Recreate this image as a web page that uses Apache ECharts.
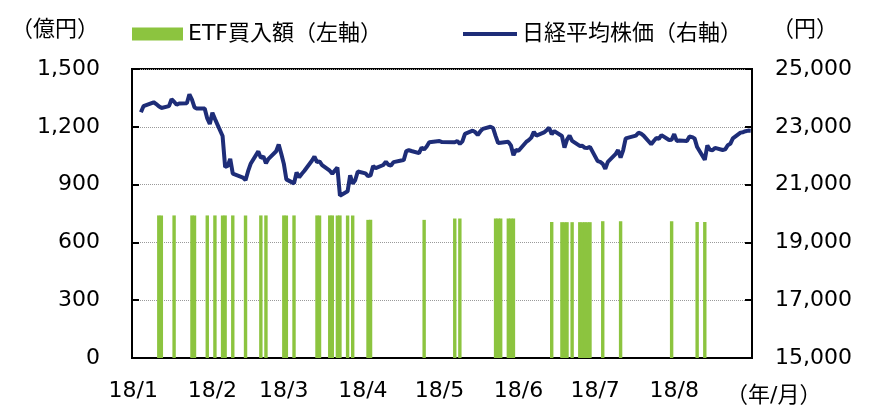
<!DOCTYPE html>
<html style="height: 100%">
<head>
<meta charset="utf-8">
<script src="https://cdn.jsdelivr.net/npm/echarts@6/dist/echarts.min.js"></script>
</head>
<body style="height: 100%; margin: 0; background: #fff">
<div id="main" style="width: 870px; height: 419px"></div>
<script type="text/javascript">
// 日経平均株価（終値, 円）
var nikkeiDates = [
  '01-04','01-05','01-09','01-10','01-11','01-12','01-15','01-16','01-17','01-18','01-19','01-22','01-23','01-24','01-25','01-26','01-29','01-30','01-31',
  '02-01','02-02','02-05','02-06','02-07','02-08','02-09','02-13','02-14','02-15','02-16','02-19','02-20','02-21','02-22','02-23','02-26','02-27','02-28',
  '03-01','03-02','03-05','03-06','03-07','03-08','03-09','03-12','03-13','03-14','03-15','03-16','03-19','03-20','03-22','03-23','03-26','03-27','03-28','03-29','03-30',
  '04-02','04-03','04-04','04-05','04-06','04-09','04-10','04-11','04-12','04-13','04-16','04-17','04-18','04-19','04-20','04-23','04-24','04-25','04-26','04-27',
  '05-01','05-02','05-07','05-08','05-09','05-10','05-11','05-14','05-15','05-16','05-17','05-18','05-21','05-22','05-23','05-24','05-25','05-28','05-29','05-30','05-31',
  '06-01','06-04','06-05','06-06','06-07','06-08','06-11','06-12','06-13','06-14','06-15','06-18','06-19','06-20','06-21','06-22','06-25','06-26','06-27','06-28','06-29',
  '07-02','07-03','07-04','07-05','07-06','07-09','07-10','07-11','07-12','07-13','07-17','07-18','07-19','07-20','07-23','07-24','07-25','07-26','07-27','07-30','07-31',
  '08-01','08-02','08-03','08-06','08-07','08-08','08-09','08-10','08-13','08-14','08-15','08-16','08-17','08-20','08-21','08-22','08-23','08-24','08-27','08-28','08-29','08-30','08-31'
];
var nikkeiValues = [
  23506,23714,23849,23788,23710,23653,23714,23951,23868,23763,23808,23816,24124,23940,23669,23631,23629,23291,23098,
  23486,23274,22682,21610,21645,21890,21382,21244,21154,21464,21720,22149,21925,21970,21736,21892,22153,22389,22068,
  21724,21181,21042,21417,21252,21368,21469,21824,21968,21777,21803,21676,21480,21380,21591,20617,20766,21317,21031,21159,21454,
  21388,21292,21319,21645,21567,21678,21794,21687,21660,21778,21835,21847,22158,22191,22162,22088,22278,22215,22319,22467,
  22508,22472,22467,22508,22408,22497,22758,22865,22818,22717,22838,22930,23002,22960,22689,22437,22450,22481,22358,22018,22201,
  22171,22475,22539,22625,22823,22694,22804,22878,22966,22738,22851,22680,22278,22555,22693,22516,22338,22342,22271,22270,22304,
  21811,21785,21717,21546,21788,22052,22196,21932,22187,22597,22697,22794,22764,22697,22396,22510,22614,22586,22712,22544,22553,
  22746,22512,22525,22507,22662,22644,22598,22298,21857,22356,22204,22192,22270,22199,22219,22362,22410,22601,22799,22813,22848,22869,22865
];

// 日銀ETF買入額（億円）
var etfDates = [
  '01-11','01-12','01-17','01-24','01-25','01-30','02-02','02-05','02-06','02-09','02-14','02-20','02-22',
  '03-01','03-02','03-05','03-14','03-15','03-19','03-20','03-22','03-23','03-26','03-28',
  '04-03','04-04','04-25','05-07','05-09','05-23','05-24','05-25','05-28','05-29','05-30',
  '06-14','06-18','06-19','06-20','06-22','06-25','06-26','06-27','06-28','06-29',
  '07-04','07-11','07-31','08-10','08-13'
];
var etfValues = [
  740,740,740,740,740,740,740,740,740,740,740,740,740,
  740,740,740,740,740,740,740,740,740,740,740,
  717,717,717,724,724,724,724,724,724,724,724,
  706,705,705,705,705,705,705,705,705,705,
  710,710,710,706,706
];

var leftTicks = { min: 0, max: 1500, interval: 300 };
var rightTicks = { min: 15000, max: 25000, interval: 2000 };

// 暦日ベースの横軸（2018/1/1〜8/31）
var days = [];
for (var t = Date.UTC(2018, 0, 1); t <= Date.UTC(2018, 7, 31); t += 86400000) {
  var d = new Date(t);
  var mm = ('0' + (d.getUTCMonth() + 1)).slice(-2);
  var dd = ('0' + d.getUTCDate()).slice(-2);
  days.push(mm + '-' + dd);
}
var nikkeiMap = {}, etfMap = {};
nikkeiDates.forEach(function (k, i) { nikkeiMap[k] = nikkeiValues[i]; });
etfDates.forEach(function (k, i) { etfMap[k] = etfValues[i]; });
var nikkeiSeries = days.map(function (k) { return k in nikkeiMap ? nikkeiMap[k] : null; });
var etfSeries = days.map(function (k) { return k in etfMap ? etfMap[k] : null; });

function monthStart(index, value) { return value.slice(3) === '01'; }

var FONT = '"DejaVu Sans", "Noto Sans CJK JP", sans-serif';
var green = '#8cc43f';
var navy = '#1e2d78';

var chart = echarts.init(document.getElementById('main'));
var option = {
  animation: false,
  textStyle: { fontFamily: FONT },
  grid: {
    left: 132, right: 118, top: 69, bottom: 61,
    show: true, borderColor: '#000', borderWidth: 2
  },
  legend: [{
    data: [{ name: 'ETF買入額（左軸）', icon: 'rect' }],
    left: 132, top: 23, padding: 0,
    itemWidth: 51, itemHeight: 13,
    textStyle: { fontSize: 22, color: '#000', fontFamily: FONT }
  }, {
    data: [{ name: '日経平均株価（右軸）', icon: 'rect' }],
    left: 463, top: 23, padding: 0,
    itemWidth: 54, itemHeight: 4,
    textStyle: { fontSize: 22, color: '#000', fontFamily: FONT }
  }],
  xAxis: {
    type: 'category',
    data: days,
    axisLine: { lineStyle: { color: '#000', width: 2 } },
    axisTick: { inside: true, length: 7, interval: monthStart, lineStyle: { color: '#000', width: 2 } },
    axisLabel: {
      interval: monthStart,
      margin: 22,
      fontSize: 22,
      color: '#000',
      formatter: function (v) { return '18/' + parseInt(v.slice(0, 2), 10); }
    },
    splitLine: { show: false }
  },
  yAxis: [{
    type: 'value',
    min: leftTicks.min, max: leftTicks.max, interval: leftTicks.interval,
    axisLine: { show: true, lineStyle: { color: '#000', width: 2 } },
    axisTick: { show: true, inside: true, length: 7, lineStyle: { color: '#000', width: 2 } },
    axisLabel: {
      margin: 32, fontSize: 22, color: '#000',
      formatter: function (v) { return v.toLocaleString('en-US'); }
    },
    splitLine: { show: true, lineStyle: { color: '#9a9a9a', type: 'dotted', width: 1 } }
  }, {
    type: 'value',
    min: rightTicks.min, max: rightTicks.max, interval: rightTicks.interval,
    axisLine: { show: true, lineStyle: { color: '#000', width: 2 } },
    axisTick: { show: true, inside: true, length: 7, lineStyle: { color: '#000', width: 2 } },
    axisLabel: {
      margin: 23, fontSize: 22, color: '#000',
      formatter: function (v) { return v.toLocaleString('en-US'); }
    },
    splitLine: { show: false }
  }],
  graphic: [
    { type: 'text', left: 11, top: 19, style: { text: '（億円）', font: '22px ' + FONT, fill: '#000' } },
    { type: 'text', left: 772, top: 19, style: { text: '（円）', font: '22px ' + FONT, fill: '#000' } },
    { type: 'text', left: 726, top: 385, style: { text: '（年/月）', font: '22px ' + FONT, fill: '#000' } }
  ],
  series: [{
    name: 'ETF買入額（左軸）',
    type: 'bar',
    yAxisIndex: 0,
    data: etfSeries,
    barWidth: 3.4,
    itemStyle: { color: green }
  }, {
    name: '日経平均株価（右軸）',
    type: 'line',
    yAxisIndex: 1,
    data: nikkeiSeries,
    connectNulls: true,
    symbol: 'none',
    lineStyle: { color: navy, width: 4 },
    itemStyle: { color: navy },
    z: 5
  }]
};
chart.setOption(option);
</script>
</body>
</html>
